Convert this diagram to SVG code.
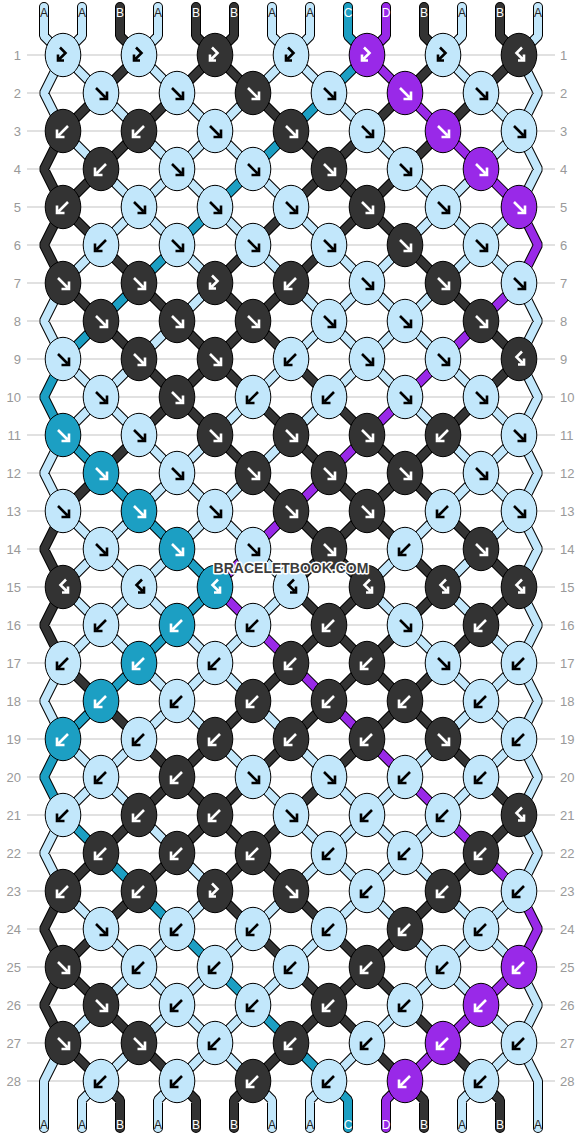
<svg xmlns="http://www.w3.org/2000/svg" width="582" height="1136" viewBox="0 0 582 1136">
<style>
.ln{stroke:#c4c4c4;stroke-width:1.2;fill:none}
.o{fill:none;stroke:#000;stroke-width:10;stroke-linejoin:bevel;stroke-linecap:round}
.s{fill:none;stroke-width:8;stroke-linejoin:bevel;stroke-linecap:round}
.sA{stroke:#c2e7fb}.sB{stroke:#333}.sC{stroke:#1c9fc3}.sD{stroke:#9929e8}
.e{stroke:#000;stroke-width:1}
.A>.e{fill:#c2e7fb}.B>.e{fill:#333}.C>.e{fill:#1c9fc3}.D>.e{fill:#9929e8}
.r{fill:none;stroke:#fff;stroke-width:2.6}
.A>.r{stroke:#000}
.num{font-family:"Liberation Sans",Arial,sans-serif;font-size:13px;fill:#999}
.lb{font-family:"Liberation Sans",Arial,sans-serif;font-size:12px;text-anchor:middle;fill:#fff}
.lb.a{fill:#222}
.wm{font-family:"Liberation Sans",Arial,sans-serif;font-size:14px;font-weight:bold;text-anchor:middle;fill:#3c3c3c;stroke:#fff;stroke-width:3;paint-order:stroke;stroke-linejoin:round}
</style>
<defs>
<ellipse id="e" rx="17.8" ry="21.7"/>
<path id="gF" d="M-5 -5L4.5 4.5M6 -1.5V6H-1.5"/>
<path id="gB" d="M5 -5L-4.5 4.5M-6 -1.5V6H1.5"/>
<path id="gBF" d="M-3 -7.5L2.5 -2L-3.5 4M-5 -0.5V5.5H1"/>
<path id="gFB" d="M3 -7.5L-2.5 -2L3.5 4M5 -0.5V5.5H-1"/>
<path id="pA" d="M63 55l38 38M139 55l38 38M291 55l-38 38M291 55l38 38M443 55l38 38M101 93l38 38M177 93l38 38M253 93l-38 38M329 93l38 38M481 93l38 38M63 131l38 38M139 131l38 38M215 131l-38 38M215 131l38 38M367 131l38 38M519 131l-38 38M101 169l38 38M177 169l-38 38M177 169l38 38M253 169l38 38M405 169l38 38M481 169l-38 38M139 207l-38 38M139 207l38 38M215 207l38 38M291 207l38 38M443 207l-38 38M443 207l38 38M519 207l-38 38M101 245l-38 38M177 245l38 38M253 245l38 38M329 245l38 38M405 245l-38 38M481 245l-38 38M481 245l38 38M215 283l-38 38M291 283l38 38M367 283l-38 38M367 283l38 38M443 283l-38 38M177 321l-38 38M329 321l-38 38M329 321l38 38M405 321l-38 38M405 321l38 38M63 359l38 38M139 359l-38 38M291 359l-38 38M367 359l-38 38M367 359l38 38M443 359l38 38M101 397l-38 38M101 397l38 38M253 397l-38 38M329 397l-38 38M405 397l38 38M481 397l38 38M139 435l38 38M215 435l-38 38M291 435l-38 38M443 435l38 38M519 435l-38 38M177 473l-38 38M177 473l38 38M253 473l-38 38M481 473l-38 38M481 473l38 38M63 511l38 38M139 511l-38 38M215 511l-38 38M215 511l38 38M443 511l-38 38M519 511l-38 38M101 549l-38 38M101 549l38 38M177 549l-38 38M253 549l38 38M405 549l-38 38M481 549l-38 38M63 587l38 38M139 587l-38 38M139 587l38 38M291 587l-38 38M367 587l38 38M443 587l38 38M101 625l-38 38M101 625l38 38M177 625l38 38M253 625l-38 38M405 625l38 38M481 625l38 38M139 663l38 38M215 663l-38 38M215 663l38 38M443 663l38 38M519 663l-38 38M177 701l-38 38M177 701l38 38M253 701l38 38M481 701l-38 38M481 701l38 38M63 739l38 38M139 739l-38 38M215 739l38 38M291 739l38 38M443 739l-38 38M519 739l-38 38M101 777l-38 38M101 777l38 38M253 777l38 38M329 777l38 38M405 777l-38 38M481 777l-38 38M139 815l38 38M291 815l38 38M367 815l-38 38M367 815l38 38M443 815l-38 38M177 853l38 38M329 853l-38 38M329 853l38 38M405 853l-38 38M405 853l38 38M63 891l38 38M215 891l-38 38M291 891l-38 38M367 891l-38 38M367 891l38 38M443 891l38 38M519 891l-38 38M101 929l38 38M177 929l-38 38M253 929l-38 38M329 929l-38 38M405 929l38 38M481 929l-38 38M481 929l38 38M139 967l-38 38M139 967l38 38M215 967l-38 38M291 967l-38 38M443 967l-38 38M443 967l38 38M101 1005l-38 38M177 1005l-38 38M177 1005l38 38M253 1005l-38 38M405 1005l-38 38M481 1005l38 38M139 1043l-38 38M215 1043l-38 38M215 1043l38 38M367 1043l-38 38M519 1043l-38 38M63 55L44 93L63 131M63 283L44 321L63 359M63 435L44 473L63 511M63 663L44 701L63 739M63 815L44 853L63 891M63 1043L44 1081V1128M519 55L538 93L519 131L538 169L519 207M519 283L538 321L519 359L538 397L519 435L538 473L519 511L538 549L519 587L538 625L519 663L538 701L519 739L538 777L519 815L538 853L519 891M519 967L538 1005L519 1043L538 1081V1128M44 7V36L63 55M82 7V36L63 55M158 7V36L139 55M272 7V36L291 55M310 7V36L291 55M462 7V36L443 55M538 7V36L519 55M101 1081L82 1100V1128M177 1081L158 1100V1128M253 1081L272 1100V1128M329 1081L310 1100V1128M481 1081L462 1100V1128"/>
<path id="pB" d="M139 55l-38 38M215 55l-38 38M215 55l38 38M443 55l-38 38M519 55l-38 38M101 93l-38 38M177 93l-38 38M253 93l38 38M405 93l-38 38M481 93l-38 38M139 131l-38 38M291 131l38 38M367 131l-38 38M443 131l-38 38M101 169l-38 38M329 169l-38 38M329 169l38 38M405 169l-38 38M63 207l38 38M291 207l-38 38M367 207l-38 38M367 207l38 38M101 245l38 38M253 245l-38 38M329 245l-38 38M405 245l38 38M63 283l38 38M139 283l38 38M215 283l38 38M291 283l-38 38M443 283l38 38M101 321l38 38M177 321l38 38M253 321l-38 38M253 321l38 38M481 321l38 38M139 359l38 38M215 359l-38 38M215 359l38 38M291 359l38 38M519 359l-38 38M177 397l-38 38M177 397l38 38M253 397l38 38M329 397l38 38M481 397l-38 38M139 435l-38 38M215 435l38 38M291 435l38 38M367 435l38 38M443 435l-38 38M101 473l-38 38M253 473l38 38M329 473l38 38M405 473l-38 38M405 473l38 38M291 511l38 38M367 511l-38 38M367 511l38 38M443 511l38 38M329 549l-38 38M329 549l38 38M405 549l38 38M481 549l38 38M291 587l38 38M367 587l-38 38M443 587l-38 38M519 587l-38 38M329 625l-38 38M329 625l38 38M405 625l-38 38M481 625l-38 38M63 663l38 38M291 663l-38 38M367 663l-38 38M367 663l38 38M443 663l-38 38M101 701l38 38M253 701l-38 38M329 701l-38 38M405 701l-38 38M405 701l38 38M139 739l38 38M215 739l-38 38M291 739l-38 38M367 739l-38 38M443 739l38 38M177 777l-38 38M177 777l38 38M253 777l-38 38M329 777l-38 38M481 777l38 38M139 815l-38 38M215 815l-38 38M215 815l38 38M291 815l-38 38M519 815l-38 38M101 853l-38 38M177 853l-38 38M253 853l-38 38M253 853l38 38M481 853l-38 38M139 891l-38 38M215 891l38 38M291 891l38 38M443 891l-38 38M101 929l-38 38M253 929l38 38M329 929l38 38M405 929l-38 38M63 967l38 38M291 967l38 38M367 967l-38 38M367 967l38 38M101 1005l38 38M329 1005l-38 38M329 1005l38 38M405 1005l38 38M63 1043l38 38M139 1043l38 38M291 1043l-38 38M367 1043l38 38M443 1043l38 38M63 131L44 169L63 207L44 245L63 283M63 511L44 549L63 587L44 625L63 663M63 891L44 929L63 967L44 1005L63 1043M120 7V36L139 55M196 7V36L215 55M234 7V36L215 55M424 7V36L443 55M500 7V36L519 55M101 1081L120 1100V1128M177 1081L196 1100V1128M253 1081L234 1100V1128M405 1081L424 1100V1128M481 1081L500 1100V1128"/>
<path id="pC" d="M348 7V36L367 55L63 359L44 397L63 435L215 587L63 739L44 777L63 815L329 1081L348 1100V1128"/>
<path id="pD" d="M386 7V36L367 55L519 207L538 245L519 283L215 587L519 891L538 929L519 967L405 1081L386 1100V1128"/>
</defs>
<rect width="582" height="1136" fill="#fff"/>
<g id="rows">
<path class="ln" d="M27 55H555M27 93H555M27 131H555M27 169H555M27 207H555M27 245H555M27 283H555M27 321H555M27 359H555M27 397H555M27 435H555M27 473H555M27 511H555M27 549H555M27 587H555M27 625H555M27 663H555M27 701H555M27 739H555M27 777H555M27 815H555M27 853H555M27 891H555M27 929H555M27 967H555M27 1005H555M27 1043H555M27 1081H555"/>
<g class="num" text-anchor="end">
<text x="21" y="59.5">1</text><text x="21" y="97.5">2</text><text x="21" y="135.5">3</text><text x="21" y="173.5">4</text><text x="21" y="211.5">5</text><text x="21" y="249.5">6</text><text x="21" y="287.5">7</text><text x="21" y="325.5">8</text><text x="21" y="363.5">9</text><text x="21" y="401.5">10</text><text x="21" y="439.5">11</text><text x="21" y="477.5">12</text><text x="21" y="515.5">13</text><text x="21" y="553.5">14</text><text x="21" y="591.5">15</text><text x="21" y="629.5">16</text><text x="21" y="667.5">17</text><text x="21" y="705.5">18</text><text x="21" y="743.5">19</text><text x="21" y="781.5">20</text><text x="21" y="819.5">21</text><text x="21" y="857.5">22</text><text x="21" y="895.5">23</text><text x="21" y="933.5">24</text><text x="21" y="971.5">25</text><text x="21" y="1009.5">26</text><text x="21" y="1047.5">27</text><text x="21" y="1085.5">28</text>
</g>
<g class="num">
<text x="560" y="59.5">1</text><text x="560" y="97.5">2</text><text x="560" y="135.5">3</text><text x="560" y="173.5">4</text><text x="560" y="211.5">5</text><text x="560" y="249.5">6</text><text x="560" y="287.5">7</text><text x="560" y="325.5">8</text><text x="560" y="363.5">9</text><text x="560" y="401.5">10</text><text x="560" y="439.5">11</text><text x="560" y="477.5">12</text><text x="560" y="515.5">13</text><text x="560" y="553.5">14</text><text x="560" y="591.5">15</text><text x="560" y="629.5">16</text><text x="560" y="667.5">17</text><text x="560" y="705.5">18</text><text x="560" y="743.5">19</text><text x="560" y="781.5">20</text><text x="560" y="819.5">21</text><text x="560" y="857.5">22</text><text x="560" y="895.5">23</text><text x="560" y="933.5">24</text><text x="560" y="971.5">25</text><text x="560" y="1009.5">26</text><text x="560" y="1047.5">27</text><text x="560" y="1085.5">28</text>
</g>
</g>
<g id="connectors">
<use href="#pA" class="o"/><use href="#pB" class="o"/><use href="#pC" class="o"/><use href="#pD" class="o"/>
<use href="#pA" class="s sA"/><use href="#pB" class="s sB"/><use href="#pC" class="s sC"/><use href="#pD" class="s sD"/>
</g>
<g id="labels">
<text class="lb a" x="44" y="17">A</text><text class="lb a" x="82" y="17">A</text><text class="lb" x="120" y="17">B</text><text class="lb a" x="158" y="17">A</text><text class="lb" x="196" y="17">B</text><text class="lb" x="234" y="17">B</text><text class="lb a" x="272" y="17">A</text><text class="lb a" x="310" y="17">A</text><text class="lb" x="348" y="17">C</text><text class="lb" x="386" y="17">D</text><text class="lb" x="424" y="17">B</text><text class="lb a" x="462" y="17">A</text><text class="lb" x="500" y="17">B</text><text class="lb a" x="538" y="17">A</text>
<text class="lb a" x="44" y="1129">A</text><text class="lb a" x="82" y="1129">A</text><text class="lb" x="120" y="1129">B</text><text class="lb a" x="158" y="1129">A</text><text class="lb" x="196" y="1129">B</text><text class="lb" x="234" y="1129">B</text><text class="lb a" x="272" y="1129">A</text><text class="lb a" x="310" y="1129">A</text><text class="lb" x="348" y="1129">C</text><text class="lb" x="386" y="1129">D</text><text class="lb" x="424" y="1129">B</text><text class="lb a" x="462" y="1129">A</text><text class="lb" x="500" y="1129">B</text><text class="lb a" x="538" y="1129">A</text>
</g>
<g id="knots">
<g id="k1-1" class="A" transform="translate(63 55)"><use class="e" href="#e"/><use class="r" href="#gBF"/></g>
<g id="k1-2" class="A" transform="translate(139 55)"><use class="e" href="#e"/><use class="r" href="#gBF"/></g>
<g id="k1-3" class="B" transform="translate(215 55)"><use class="e" href="#e"/><use class="r" href="#gBF"/></g>
<g id="k1-4" class="A" transform="translate(291 55)"><use class="e" href="#e"/><use class="r" href="#gBF"/></g>
<g id="k1-5" class="D" transform="translate(367 55)"><use class="e" href="#e"/><use class="r" href="#gBF"/></g>
<g id="k1-6" class="A" transform="translate(443 55)"><use class="e" href="#e"/><use class="r" href="#gBF"/></g>
<g id="k1-7" class="B" transform="translate(519 55)"><use class="e" href="#e"/><use class="r" href="#gFB"/></g>
<g id="k2-1" class="A" transform="translate(101 93)"><use class="e" href="#e"/><use class="r" href="#gF"/></g>
<g id="k2-2" class="A" transform="translate(177 93)"><use class="e" href="#e"/><use class="r" href="#gF"/></g>
<g id="k2-3" class="B" transform="translate(253 93)"><use class="e" href="#e"/><use class="r" href="#gF"/></g>
<g id="k2-4" class="A" transform="translate(329 93)"><use class="e" href="#e"/><use class="r" href="#gF"/></g>
<g id="k2-5" class="D" transform="translate(405 93)"><use class="e" href="#e"/><use class="r" href="#gF"/></g>
<g id="k2-6" class="A" transform="translate(481 93)"><use class="e" href="#e"/><use class="r" href="#gF"/></g>
<g id="k3-1" class="B" transform="translate(63 131)"><use class="e" href="#e"/><use class="r" href="#gB"/></g>
<g id="k3-2" class="B" transform="translate(139 131)"><use class="e" href="#e"/><use class="r" href="#gB"/></g>
<g id="k3-3" class="A" transform="translate(215 131)"><use class="e" href="#e"/><use class="r" href="#gF"/></g>
<g id="k3-4" class="B" transform="translate(291 131)"><use class="e" href="#e"/><use class="r" href="#gF"/></g>
<g id="k3-5" class="A" transform="translate(367 131)"><use class="e" href="#e"/><use class="r" href="#gF"/></g>
<g id="k3-6" class="D" transform="translate(443 131)"><use class="e" href="#e"/><use class="r" href="#gF"/></g>
<g id="k3-7" class="A" transform="translate(519 131)"><use class="e" href="#e"/><use class="r" href="#gF"/></g>
<g id="k4-1" class="B" transform="translate(101 169)"><use class="e" href="#e"/><use class="r" href="#gB"/></g>
<g id="k4-2" class="A" transform="translate(177 169)"><use class="e" href="#e"/><use class="r" href="#gF"/></g>
<g id="k4-3" class="A" transform="translate(253 169)"><use class="e" href="#e"/><use class="r" href="#gF"/></g>
<g id="k4-4" class="B" transform="translate(329 169)"><use class="e" href="#e"/><use class="r" href="#gF"/></g>
<g id="k4-5" class="A" transform="translate(405 169)"><use class="e" href="#e"/><use class="r" href="#gF"/></g>
<g id="k4-6" class="D" transform="translate(481 169)"><use class="e" href="#e"/><use class="r" href="#gF"/></g>
<g id="k5-1" class="B" transform="translate(63 207)"><use class="e" href="#e"/><use class="r" href="#gB"/></g>
<g id="k5-2" class="A" transform="translate(139 207)"><use class="e" href="#e"/><use class="r" href="#gF"/></g>
<g id="k5-3" class="A" transform="translate(215 207)"><use class="e" href="#e"/><use class="r" href="#gF"/></g>
<g id="k5-4" class="A" transform="translate(291 207)"><use class="e" href="#e"/><use class="r" href="#gF"/></g>
<g id="k5-5" class="B" transform="translate(367 207)"><use class="e" href="#e"/><use class="r" href="#gF"/></g>
<g id="k5-6" class="A" transform="translate(443 207)"><use class="e" href="#e"/><use class="r" href="#gF"/></g>
<g id="k5-7" class="D" transform="translate(519 207)"><use class="e" href="#e"/><use class="r" href="#gF"/></g>
<g id="k6-1" class="A" transform="translate(101 245)"><use class="e" href="#e"/><use class="r" href="#gB"/></g>
<g id="k6-2" class="A" transform="translate(177 245)"><use class="e" href="#e"/><use class="r" href="#gF"/></g>
<g id="k6-3" class="A" transform="translate(253 245)"><use class="e" href="#e"/><use class="r" href="#gF"/></g>
<g id="k6-4" class="A" transform="translate(329 245)"><use class="e" href="#e"/><use class="r" href="#gF"/></g>
<g id="k6-5" class="B" transform="translate(405 245)"><use class="e" href="#e"/><use class="r" href="#gF"/></g>
<g id="k6-6" class="A" transform="translate(481 245)"><use class="e" href="#e"/><use class="r" href="#gF"/></g>
<g id="k7-1" class="B" transform="translate(63 283)"><use class="e" href="#e"/><use class="r" href="#gF"/></g>
<g id="k7-2" class="B" transform="translate(139 283)"><use class="e" href="#e"/><use class="r" href="#gF"/></g>
<g id="k7-3" class="B" transform="translate(215 283)"><use class="e" href="#e"/><use class="r" href="#gBF"/></g>
<g id="k7-4" class="B" transform="translate(291 283)"><use class="e" href="#e"/><use class="r" href="#gB"/></g>
<g id="k7-5" class="A" transform="translate(367 283)"><use class="e" href="#e"/><use class="r" href="#gF"/></g>
<g id="k7-6" class="B" transform="translate(443 283)"><use class="e" href="#e"/><use class="r" href="#gF"/></g>
<g id="k7-7" class="A" transform="translate(519 283)"><use class="e" href="#e"/><use class="r" href="#gF"/></g>
<g id="k8-1" class="B" transform="translate(101 321)"><use class="e" href="#e"/><use class="r" href="#gF"/></g>
<g id="k8-2" class="B" transform="translate(177 321)"><use class="e" href="#e"/><use class="r" href="#gF"/></g>
<g id="k8-3" class="B" transform="translate(253 321)"><use class="e" href="#e"/><use class="r" href="#gF"/></g>
<g id="k8-4" class="A" transform="translate(329 321)"><use class="e" href="#e"/><use class="r" href="#gF"/></g>
<g id="k8-5" class="A" transform="translate(405 321)"><use class="e" href="#e"/><use class="r" href="#gF"/></g>
<g id="k8-6" class="B" transform="translate(481 321)"><use class="e" href="#e"/><use class="r" href="#gF"/></g>
<g id="k9-1" class="A" transform="translate(63 359)"><use class="e" href="#e"/><use class="r" href="#gF"/></g>
<g id="k9-2" class="B" transform="translate(139 359)"><use class="e" href="#e"/><use class="r" href="#gF"/></g>
<g id="k9-3" class="B" transform="translate(215 359)"><use class="e" href="#e"/><use class="r" href="#gF"/></g>
<g id="k9-4" class="A" transform="translate(291 359)"><use class="e" href="#e"/><use class="r" href="#gB"/></g>
<g id="k9-5" class="A" transform="translate(367 359)"><use class="e" href="#e"/><use class="r" href="#gF"/></g>
<g id="k9-6" class="A" transform="translate(443 359)"><use class="e" href="#e"/><use class="r" href="#gF"/></g>
<g id="k9-7" class="B" transform="translate(519 359)"><use class="e" href="#e"/><use class="r" href="#gFB"/></g>
<g id="k10-1" class="A" transform="translate(101 397)"><use class="e" href="#e"/><use class="r" href="#gF"/></g>
<g id="k10-2" class="B" transform="translate(177 397)"><use class="e" href="#e"/><use class="r" href="#gF"/></g>
<g id="k10-3" class="A" transform="translate(253 397)"><use class="e" href="#e"/><use class="r" href="#gB"/></g>
<g id="k10-4" class="A" transform="translate(329 397)"><use class="e" href="#e"/><use class="r" href="#gB"/></g>
<g id="k10-5" class="A" transform="translate(405 397)"><use class="e" href="#e"/><use class="r" href="#gF"/></g>
<g id="k10-6" class="A" transform="translate(481 397)"><use class="e" href="#e"/><use class="r" href="#gF"/></g>
<g id="k11-1" class="C" transform="translate(63 435)"><use class="e" href="#e"/><use class="r" href="#gF"/></g>
<g id="k11-2" class="A" transform="translate(139 435)"><use class="e" href="#e"/><use class="r" href="#gF"/></g>
<g id="k11-3" class="B" transform="translate(215 435)"><use class="e" href="#e"/><use class="r" href="#gF"/></g>
<g id="k11-4" class="B" transform="translate(291 435)"><use class="e" href="#e"/><use class="r" href="#gF"/></g>
<g id="k11-5" class="B" transform="translate(367 435)"><use class="e" href="#e"/><use class="r" href="#gF"/></g>
<g id="k11-6" class="B" transform="translate(443 435)"><use class="e" href="#e"/><use class="r" href="#gB"/></g>
<g id="k11-7" class="A" transform="translate(519 435)"><use class="e" href="#e"/><use class="r" href="#gF"/></g>
<g id="k12-1" class="C" transform="translate(101 473)"><use class="e" href="#e"/><use class="r" href="#gF"/></g>
<g id="k12-2" class="A" transform="translate(177 473)"><use class="e" href="#e"/><use class="r" href="#gF"/></g>
<g id="k12-3" class="B" transform="translate(253 473)"><use class="e" href="#e"/><use class="r" href="#gF"/></g>
<g id="k12-4" class="B" transform="translate(329 473)"><use class="e" href="#e"/><use class="r" href="#gF"/></g>
<g id="k12-5" class="B" transform="translate(405 473)"><use class="e" href="#e"/><use class="r" href="#gF"/></g>
<g id="k12-6" class="A" transform="translate(481 473)"><use class="e" href="#e"/><use class="r" href="#gF"/></g>
<g id="k13-1" class="A" transform="translate(63 511)"><use class="e" href="#e"/><use class="r" href="#gF"/></g>
<g id="k13-2" class="C" transform="translate(139 511)"><use class="e" href="#e"/><use class="r" href="#gF"/></g>
<g id="k13-3" class="A" transform="translate(215 511)"><use class="e" href="#e"/><use class="r" href="#gF"/></g>
<g id="k13-4" class="B" transform="translate(291 511)"><use class="e" href="#e"/><use class="r" href="#gF"/></g>
<g id="k13-5" class="B" transform="translate(367 511)"><use class="e" href="#e"/><use class="r" href="#gF"/></g>
<g id="k13-6" class="A" transform="translate(443 511)"><use class="e" href="#e"/><use class="r" href="#gB"/></g>
<g id="k13-7" class="A" transform="translate(519 511)"><use class="e" href="#e"/><use class="r" href="#gF"/></g>
<g id="k14-1" class="A" transform="translate(101 549)"><use class="e" href="#e"/><use class="r" href="#gF"/></g>
<g id="k14-2" class="C" transform="translate(177 549)"><use class="e" href="#e"/><use class="r" href="#gF"/></g>
<g id="k14-3" class="A" transform="translate(253 549)"><use class="e" href="#e"/><use class="r" href="#gF"/></g>
<g id="k14-4" class="B" transform="translate(329 549)"><use class="e" href="#e"/><use class="r" href="#gF"/></g>
<g id="k14-5" class="A" transform="translate(405 549)"><use class="e" href="#e"/><use class="r" href="#gB"/></g>
<g id="k14-6" class="B" transform="translate(481 549)"><use class="e" href="#e"/><use class="r" href="#gF"/></g>
<g id="k15-1" class="B" transform="translate(63 587)"><use class="e" href="#e"/><use class="r" href="#gFB"/></g>
<g id="k15-2" class="A" transform="translate(139 587)"><use class="e" href="#e"/><use class="r" href="#gFB"/></g>
<g id="k15-3" class="C" transform="translate(215 587)"><use class="e" href="#e"/><use class="r" href="#gFB"/></g>
<g id="k15-4" class="A" transform="translate(291 587)"><use class="e" href="#e"/><use class="r" href="#gFB"/></g>
<g id="k15-5" class="B" transform="translate(367 587)"><use class="e" href="#e"/><use class="r" href="#gFB"/></g>
<g id="k15-6" class="B" transform="translate(443 587)"><use class="e" href="#e"/><use class="r" href="#gFB"/></g>
<g id="k15-7" class="B" transform="translate(519 587)"><use class="e" href="#e"/><use class="r" href="#gFB"/></g>
<g id="k16-1" class="A" transform="translate(101 625)"><use class="e" href="#e"/><use class="r" href="#gB"/></g>
<g id="k16-2" class="C" transform="translate(177 625)"><use class="e" href="#e"/><use class="r" href="#gB"/></g>
<g id="k16-3" class="A" transform="translate(253 625)"><use class="e" href="#e"/><use class="r" href="#gB"/></g>
<g id="k16-4" class="B" transform="translate(329 625)"><use class="e" href="#e"/><use class="r" href="#gB"/></g>
<g id="k16-5" class="A" transform="translate(405 625)"><use class="e" href="#e"/><use class="r" href="#gF"/></g>
<g id="k16-6" class="B" transform="translate(481 625)"><use class="e" href="#e"/><use class="r" href="#gB"/></g>
<g id="k17-1" class="A" transform="translate(63 663)"><use class="e" href="#e"/><use class="r" href="#gB"/></g>
<g id="k17-2" class="C" transform="translate(139 663)"><use class="e" href="#e"/><use class="r" href="#gB"/></g>
<g id="k17-3" class="A" transform="translate(215 663)"><use class="e" href="#e"/><use class="r" href="#gB"/></g>
<g id="k17-4" class="B" transform="translate(291 663)"><use class="e" href="#e"/><use class="r" href="#gB"/></g>
<g id="k17-5" class="B" transform="translate(367 663)"><use class="e" href="#e"/><use class="r" href="#gB"/></g>
<g id="k17-6" class="A" transform="translate(443 663)"><use class="e" href="#e"/><use class="r" href="#gF"/></g>
<g id="k17-7" class="A" transform="translate(519 663)"><use class="e" href="#e"/><use class="r" href="#gB"/></g>
<g id="k18-1" class="C" transform="translate(101 701)"><use class="e" href="#e"/><use class="r" href="#gB"/></g>
<g id="k18-2" class="A" transform="translate(177 701)"><use class="e" href="#e"/><use class="r" href="#gB"/></g>
<g id="k18-3" class="B" transform="translate(253 701)"><use class="e" href="#e"/><use class="r" href="#gB"/></g>
<g id="k18-4" class="B" transform="translate(329 701)"><use class="e" href="#e"/><use class="r" href="#gB"/></g>
<g id="k18-5" class="B" transform="translate(405 701)"><use class="e" href="#e"/><use class="r" href="#gB"/></g>
<g id="k18-6" class="A" transform="translate(481 701)"><use class="e" href="#e"/><use class="r" href="#gB"/></g>
<g id="k19-1" class="C" transform="translate(63 739)"><use class="e" href="#e"/><use class="r" href="#gB"/></g>
<g id="k19-2" class="A" transform="translate(139 739)"><use class="e" href="#e"/><use class="r" href="#gB"/></g>
<g id="k19-3" class="B" transform="translate(215 739)"><use class="e" href="#e"/><use class="r" href="#gB"/></g>
<g id="k19-4" class="B" transform="translate(291 739)"><use class="e" href="#e"/><use class="r" href="#gB"/></g>
<g id="k19-5" class="B" transform="translate(367 739)"><use class="e" href="#e"/><use class="r" href="#gB"/></g>
<g id="k19-6" class="B" transform="translate(443 739)"><use class="e" href="#e"/><use class="r" href="#gF"/></g>
<g id="k19-7" class="A" transform="translate(519 739)"><use class="e" href="#e"/><use class="r" href="#gB"/></g>
<g id="k20-1" class="A" transform="translate(101 777)"><use class="e" href="#e"/><use class="r" href="#gB"/></g>
<g id="k20-2" class="B" transform="translate(177 777)"><use class="e" href="#e"/><use class="r" href="#gB"/></g>
<g id="k20-3" class="A" transform="translate(253 777)"><use class="e" href="#e"/><use class="r" href="#gF"/></g>
<g id="k20-4" class="A" transform="translate(329 777)"><use class="e" href="#e"/><use class="r" href="#gF"/></g>
<g id="k20-5" class="A" transform="translate(405 777)"><use class="e" href="#e"/><use class="r" href="#gB"/></g>
<g id="k20-6" class="A" transform="translate(481 777)"><use class="e" href="#e"/><use class="r" href="#gB"/></g>
<g id="k21-1" class="A" transform="translate(63 815)"><use class="e" href="#e"/><use class="r" href="#gB"/></g>
<g id="k21-2" class="B" transform="translate(139 815)"><use class="e" href="#e"/><use class="r" href="#gB"/></g>
<g id="k21-3" class="B" transform="translate(215 815)"><use class="e" href="#e"/><use class="r" href="#gB"/></g>
<g id="k21-4" class="A" transform="translate(291 815)"><use class="e" href="#e"/><use class="r" href="#gF"/></g>
<g id="k21-5" class="A" transform="translate(367 815)"><use class="e" href="#e"/><use class="r" href="#gB"/></g>
<g id="k21-6" class="A" transform="translate(443 815)"><use class="e" href="#e"/><use class="r" href="#gB"/></g>
<g id="k21-7" class="B" transform="translate(519 815)"><use class="e" href="#e"/><use class="r" href="#gFB"/></g>
<g id="k22-1" class="B" transform="translate(101 853)"><use class="e" href="#e"/><use class="r" href="#gB"/></g>
<g id="k22-2" class="B" transform="translate(177 853)"><use class="e" href="#e"/><use class="r" href="#gB"/></g>
<g id="k22-3" class="B" transform="translate(253 853)"><use class="e" href="#e"/><use class="r" href="#gB"/></g>
<g id="k22-4" class="A" transform="translate(329 853)"><use class="e" href="#e"/><use class="r" href="#gB"/></g>
<g id="k22-5" class="A" transform="translate(405 853)"><use class="e" href="#e"/><use class="r" href="#gB"/></g>
<g id="k22-6" class="B" transform="translate(481 853)"><use class="e" href="#e"/><use class="r" href="#gB"/></g>
<g id="k23-1" class="B" transform="translate(63 891)"><use class="e" href="#e"/><use class="r" href="#gB"/></g>
<g id="k23-2" class="B" transform="translate(139 891)"><use class="e" href="#e"/><use class="r" href="#gB"/></g>
<g id="k23-3" class="B" transform="translate(215 891)"><use class="e" href="#e"/><use class="r" href="#gBF"/></g>
<g id="k23-4" class="B" transform="translate(291 891)"><use class="e" href="#e"/><use class="r" href="#gF"/></g>
<g id="k23-5" class="A" transform="translate(367 891)"><use class="e" href="#e"/><use class="r" href="#gB"/></g>
<g id="k23-6" class="B" transform="translate(443 891)"><use class="e" href="#e"/><use class="r" href="#gB"/></g>
<g id="k23-7" class="A" transform="translate(519 891)"><use class="e" href="#e"/><use class="r" href="#gB"/></g>
<g id="k24-1" class="A" transform="translate(101 929)"><use class="e" href="#e"/><use class="r" href="#gF"/></g>
<g id="k24-2" class="A" transform="translate(177 929)"><use class="e" href="#e"/><use class="r" href="#gB"/></g>
<g id="k24-3" class="A" transform="translate(253 929)"><use class="e" href="#e"/><use class="r" href="#gB"/></g>
<g id="k24-4" class="A" transform="translate(329 929)"><use class="e" href="#e"/><use class="r" href="#gB"/></g>
<g id="k24-5" class="B" transform="translate(405 929)"><use class="e" href="#e"/><use class="r" href="#gB"/></g>
<g id="k24-6" class="A" transform="translate(481 929)"><use class="e" href="#e"/><use class="r" href="#gB"/></g>
<g id="k25-1" class="B" transform="translate(63 967)"><use class="e" href="#e"/><use class="r" href="#gF"/></g>
<g id="k25-2" class="A" transform="translate(139 967)"><use class="e" href="#e"/><use class="r" href="#gB"/></g>
<g id="k25-3" class="A" transform="translate(215 967)"><use class="e" href="#e"/><use class="r" href="#gB"/></g>
<g id="k25-4" class="A" transform="translate(291 967)"><use class="e" href="#e"/><use class="r" href="#gB"/></g>
<g id="k25-5" class="B" transform="translate(367 967)"><use class="e" href="#e"/><use class="r" href="#gB"/></g>
<g id="k25-6" class="A" transform="translate(443 967)"><use class="e" href="#e"/><use class="r" href="#gB"/></g>
<g id="k25-7" class="D" transform="translate(519 967)"><use class="e" href="#e"/><use class="r" href="#gB"/></g>
<g id="k26-1" class="B" transform="translate(101 1005)"><use class="e" href="#e"/><use class="r" href="#gF"/></g>
<g id="k26-2" class="A" transform="translate(177 1005)"><use class="e" href="#e"/><use class="r" href="#gB"/></g>
<g id="k26-3" class="A" transform="translate(253 1005)"><use class="e" href="#e"/><use class="r" href="#gB"/></g>
<g id="k26-4" class="B" transform="translate(329 1005)"><use class="e" href="#e"/><use class="r" href="#gB"/></g>
<g id="k26-5" class="A" transform="translate(405 1005)"><use class="e" href="#e"/><use class="r" href="#gB"/></g>
<g id="k26-6" class="D" transform="translate(481 1005)"><use class="e" href="#e"/><use class="r" href="#gB"/></g>
<g id="k27-1" class="B" transform="translate(63 1043)"><use class="e" href="#e"/><use class="r" href="#gF"/></g>
<g id="k27-2" class="B" transform="translate(139 1043)"><use class="e" href="#e"/><use class="r" href="#gF"/></g>
<g id="k27-3" class="A" transform="translate(215 1043)"><use class="e" href="#e"/><use class="r" href="#gB"/></g>
<g id="k27-4" class="B" transform="translate(291 1043)"><use class="e" href="#e"/><use class="r" href="#gB"/></g>
<g id="k27-5" class="A" transform="translate(367 1043)"><use class="e" href="#e"/><use class="r" href="#gB"/></g>
<g id="k27-6" class="D" transform="translate(443 1043)"><use class="e" href="#e"/><use class="r" href="#gB"/></g>
<g id="k27-7" class="A" transform="translate(519 1043)"><use class="e" href="#e"/><use class="r" href="#gB"/></g>
<g id="k28-1" class="A" transform="translate(101 1081)"><use class="e" href="#e"/><use class="r" href="#gB"/></g>
<g id="k28-2" class="A" transform="translate(177 1081)"><use class="e" href="#e"/><use class="r" href="#gB"/></g>
<g id="k28-3" class="B" transform="translate(253 1081)"><use class="e" href="#e"/><use class="r" href="#gB"/></g>
<g id="k28-4" class="A" transform="translate(329 1081)"><use class="e" href="#e"/><use class="r" href="#gB"/></g>
<g id="k28-5" class="D" transform="translate(405 1081)"><use class="e" href="#e"/><use class="r" href="#gB"/></g>
<g id="k28-6" class="A" transform="translate(481 1081)"><use class="e" href="#e"/><use class="r" href="#gB"/></g>
</g>
<text id="watermark" class="wm" x="291" y="573">BRACELETBOOK.COM</text>
</svg>
